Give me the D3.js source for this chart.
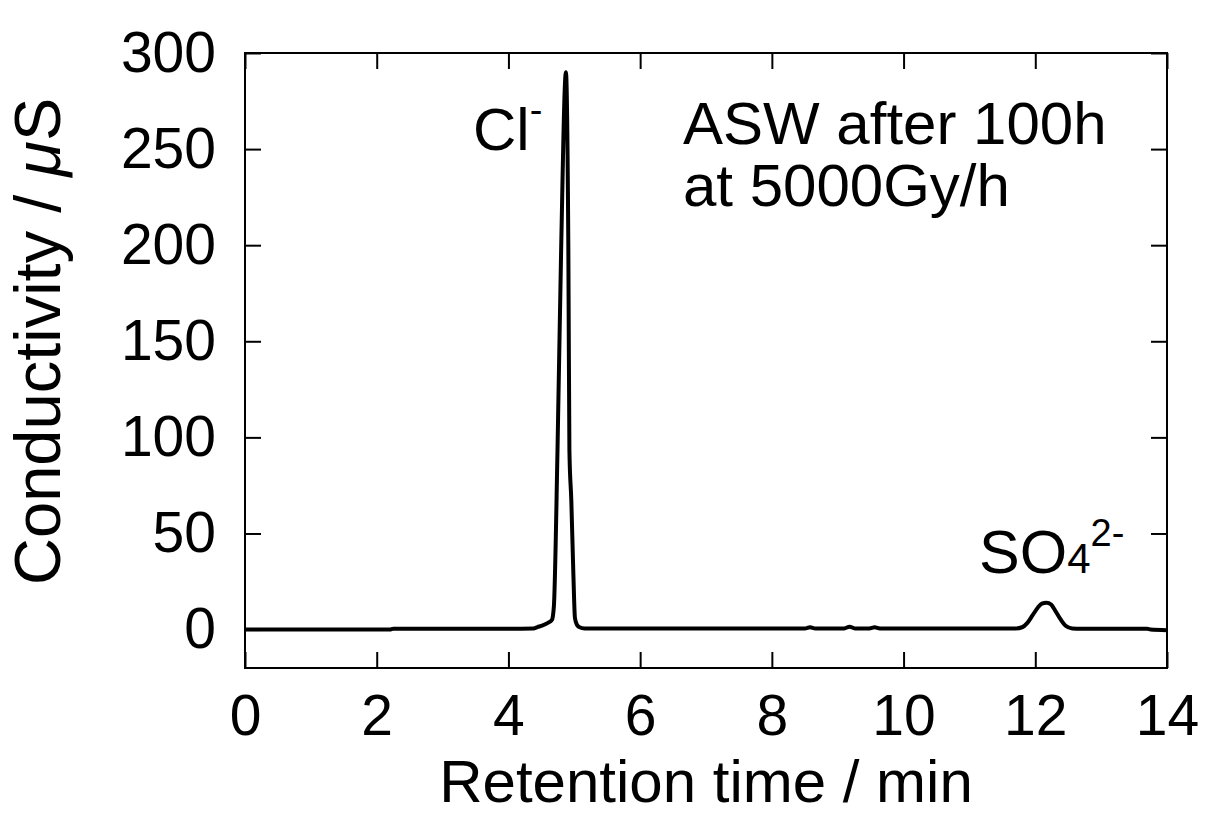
<!DOCTYPE html>
<html>
<head>
<meta charset="utf-8">
<script src="https://cdn.jsdelivr.net/npm/d3@7"></script>
<style>
  body { margin: 0; background: #fff; }
  svg text { font-family: "Liberation Sans", Arial, Helvetica, sans-serif; fill: #000; }
</style>
</head>
<body>
<div id="chart"></div>
<script>
// retention time (min) and conductivity (uS)
var times = [0, 2.2, 2.25, 4.0, 4.38, 4.44, 4.52, 4.6, 4.66, 4.69, 4.745, 4.80, 4.873,
             4.91, 4.926, 4.955, 4.986, 5.01, 5.04, 5.08, 5.16, 5.3,
             8.5, 8.58, 8.66, 9.1, 9.18, 9.26, 9.48, 9.56, 9.64,
             11.7, 11.8, 11.88, 11.96, 12.04, 12.1, 12.17, 12.24, 12.3, 12.38, 12.46, 12.56, 12.7,
             13.7, 13.75, 14];
var conductivity = [0, 0, 0.4, 0.4, 0.6, 1.3, 2.2, 3.5, 5, 12, 93, 197, 290,
                    197, 93, 67, 29, 6, 2.5, 1.2, 0.6, 0.5,
                    0.5, 1.2, 0.5, 0.6, 1.5, 0.6, 0.6, 1.2, 0.6,
                    0.6, 1.2, 3.5, 7.5, 11.5, 13.5, 14, 13, 10, 5.5, 2, 0.6, 0.4,
                    0.4, 0, -0.3];
var xTicks = [0, 2, 4, 6, 8, 10, 12, 14];
var yTicks = [0, 50, 100, 150, 200, 250, 300];

var W = 1205, H = 816;
var margin = {left: 245, right: 38, top: 53, bottom: 148},
    width = W - margin.left - margin.right,
    height = H - margin.top - margin.bottom;

var svg = d3.select("#chart").append("svg")
    .attr("width", W)
    .attr("height", H);

var g = svg.append("g")
    .attr("transform", "translate(" + margin.left + "," + margin.top + ")");

var x = d3.scaleLinear().domain([0, 14]).range([0, width]);
var y = d3.scaleLinear().domain([-20, 300]).range([height, 0]);

var tick = 16, fs = 57;

function styleAxis(sel, noText) {
  sel.select(".domain").remove();
  sel.selectAll(".tick line").attr("stroke", "#000").attr("stroke-width", 2);
  sel.selectAll(".tick text").attr("font-size", fs).attr("fill", "#000");
  if (noText) sel.selectAll(".tick text").remove();
}

g.append("g")
  .attr("transform", "translate(0," + height + ")")
  .call(d3.axisBottom(x).tickValues(xTicks).tickSize(-tick).tickPadding(tick + 11).tickFormat(d3.format("d")))
  .call(styleAxis);
g.append("g")
  .call(d3.axisTop(x).tickValues(xTicks).tickSize(-tick))
  .call(function (s) { styleAxis(s, true); });
g.append("g")
  .call(d3.axisLeft(y).tickValues(yTicks).tickSize(-tick).tickPadding(tick + 13).tickFormat(d3.format("d")))
  .call(styleAxis);
g.append("g")
  .attr("transform", "translate(" + width + ",0)")
  .call(d3.axisRight(y).tickValues(yTicks).tickSize(-tick))
  .call(function (s) { styleAxis(s, true); });

g.append("rect")
  .attr("width", width)
  .attr("height", height)
  .attr("fill", "none")
  .attr("stroke", "#000")
  .attr("stroke-width", 2);

var data = times.map(function (t, i) { return {t: t, v: conductivity[i]}; });

var line = d3.line()
  .x(function (d) { return x(d.t); })
  .y(function (d) { return y(d.v); })
  .curve(d3.curveMonotoneX);

g.append("path")
  .datum(data)
  .attr("fill", "none")
  .attr("stroke", "#000")
  .attr("stroke-width", 4)
  .attr("stroke-linejoin", "round")
  .attr("d", line);

// axis titles
svg.append("text")
  .attr("x", margin.left + width / 2)
  .attr("y", 802)
  .attr("text-anchor", "middle")
  .attr("font-size", 60)
  .text("Retention time / min");

svg.append("text")
  .attr("transform", "translate(60," + (margin.top + y(150)) + ") rotate(-90)")
  .attr("text-anchor", "middle")
  .attr("font-size", 65)
  .html('Conductivity / <tspan font-style="italic">μ</tspan>S');

// peak labels
var cl = svg.append("text")
  .attr("x", 473)
  .attr("y", 150)
  .attr("font-size", 60);
cl.append("tspan").text("Cl");
cl.append("tspan").attr("font-size", 38).attr("dy", -27).text("-");

var so = svg.append("text")
  .attr("x", 979)
  .attr("y", 573)
  .attr("font-size", 61);
so.append("tspan").text("SO");
so.append("tspan").attr("font-size", 42).text("4");
so.append("tspan").attr("font-size", 38).attr("dy", -27).text("2-");

svg.append("text")
  .attr("x", 683).attr("y", 144)
  .attr("font-size", 60)
  .text("ASW after 100h");
svg.append("text")
  .attr("x", 683).attr("y", 206)
  .attr("font-size", 60)
  .text("at 5000Gy/h");
</script>
</body>
</html>
